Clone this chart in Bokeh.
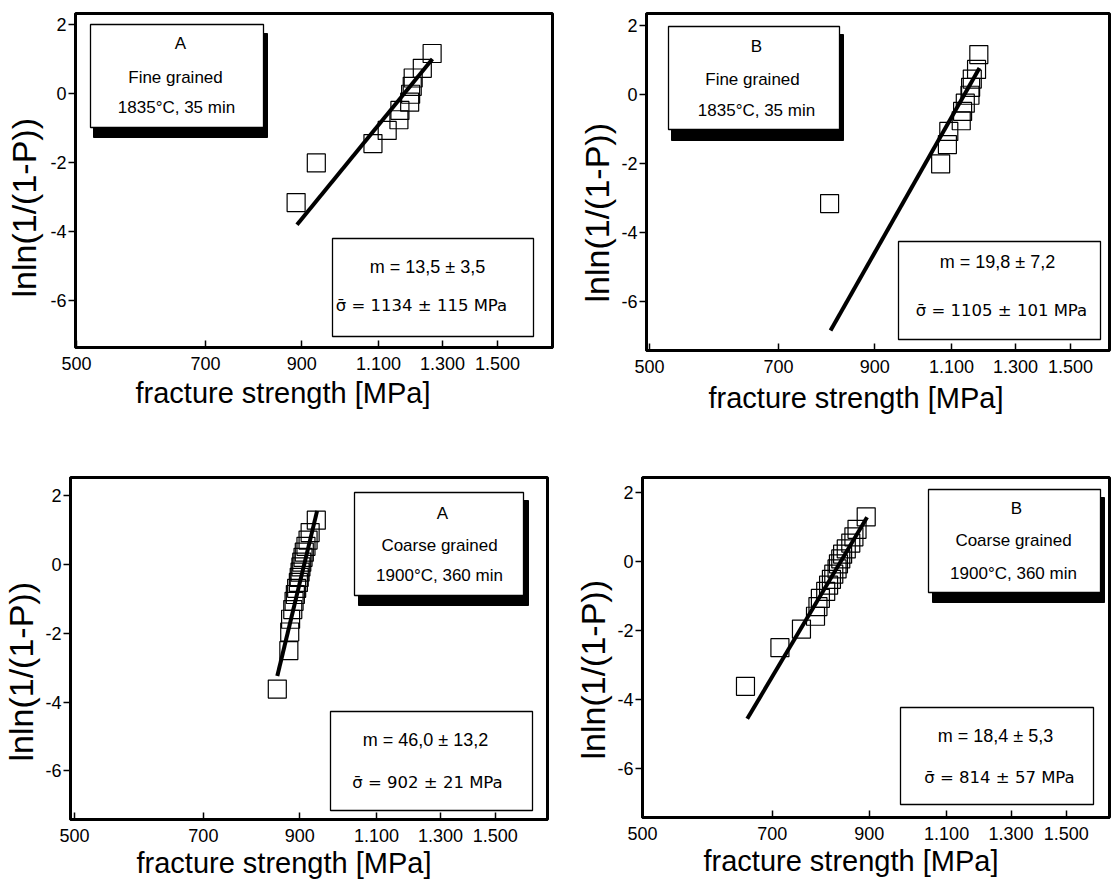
import math
from bokeh.plotting import figure
from bokeh.layouts import row, column
from bokeh.models import FixedTicker, Range1d, Title
from bokeh.core.properties import value
from bokeh.embed import file_html
from bokeh.resources import INLINE

FONT = "Liberation Sans"
SIGMA_FONT = "DejaVu Sans"

# ---------------- data ----------------
fine_A_lnln = [-3.16, -2.01, -1.45, -1.07, -0.76, -0.49, -0.25, -0.02, 0.21, 0.45, 0.73, 1.16]
fine_A_strength = [887, 935, 1084, 1125, 1160, 1163, 1193, 1196, 1201, 1204, 1233, 1265]
fine_A_fit_strength = [889, 1266]
fine_A_fit_lnln = [-3.80, 1.00]

fine_B_lnln = [-3.16, -2.01, -1.45, -1.07, -0.76, -0.49, -0.25, -0.02, 0.21, 0.45, 0.73, 1.16]
fine_B_strength = [800, 1069, 1088, 1092, 1128, 1132, 1140, 1154, 1156, 1161, 1174, 1181]
fine_B_fit_strength = [802, 1183]
fine_B_fit_lnln = [-6.84, 0.77]

coarse_A_lnln = [-3.62, -2.50, -1.96, -1.59, -1.31, -1.07, -0.87, -0.69, -0.52, -0.37,
                 -0.22, -0.07, 0.07, 0.21, 0.36, 0.53, 0.71, 0.93, 1.29]
coarse_A_strength = [849, 875, 877, 879, 884, 887, 890, 893, 897, 899,
                     901, 903, 905, 908, 911, 915, 920, 925, 940]
coarse_A_fit_strength = [849, 942]
coarse_A_fit_lnln = [-3.24, 1.56]

coarse_B_lnln = [-3.62, -2.50, -1.96, -1.59, -1.31, -1.07, -0.87, -0.69, -0.52, -0.37,
                 -0.22, -0.07, 0.07, 0.21, 0.36, 0.53, 0.71, 0.93, 1.29]
coarse_B_strength = [653, 714, 755, 783, 788, 793, 804, 810, 816, 821,
                     828, 831, 836, 840, 848, 858, 865, 872, 893]
coarse_B_fit_strength = [656, 895]
coarse_B_fit_lnln = [-4.56, 1.28]

x_ticks = [500, 700, 900, 1100, 1300, 1500]
x_tick_labels = ["500", "700", "900", "1.100", "1.300", "1.500"]
y_ticks = [-6, -4, -2, 0, 2]
y_tick_labels = ["-6", "-4", "-2", "0", "2"]
x_title = "fracture strength [MPa]"
y_title = "lnln(1/(1-P))"

label_A_fine = ["A", "Fine grained", "1835°C, 35 min"]
label_B_fine = ["B", "Fine grained", "1835°C, 35 min"]
label_A_coarse = ["A", "Coarse grained", "1900°C, 360 min"]
label_B_coarse = ["B", "Coarse grained", "1900°C, 360 min"]
modulus_A_fine = "m = 13,5 ± 3,5"
modulus_B_fine = "m = 19,8 ± 7,2"
modulus_A_coarse = "m = 46,0 ± 13,2"
modulus_B_coarse = "m = 18,4 ± 5,3"
strength_A_fine = "\u03c3\u0304 = 1134 ± 115 MPa"
strength_B_fine = "\u03c3\u0304 = 1105 ± 101 MPa"
strength_A_coarse = "\u03c3\u0304 = 902 ± 21 MPa"
strength_B_coarse = "\u03c3\u0304 = 814 ± 57 MPa"

# ---------------- layout (page pixel positions, page origin 0,0) ----------------
panels = [
    dict(x=fine_A_strength, y=fine_A_lnln, fx=fine_A_fit_strength, fy=fine_A_fit_lnln,
         labels=label_A_fine, mod=modulus_A_fine, sig=strength_A_fine,
         fl=75, ft=13, W=477, H=334, bl=75, br=20, bt=13, bb=93,
         xr=(498.7, 1732), yr=(-7.36, 2.32),
         shadow=(93, 33, 267, 137), box=(90, 24, 263, 127),
         lpos=[(180, 43), (175, 77), (176, 107)],
         sbox=(332, 238, 533, 336), mpos=(427, 266), spos=(421, 305),
         toff=60, tstand=5, yoff=50, ystand=5),
    dict(x=fine_B_strength, y=fine_B_lnln, fx=fine_B_fit_strength, fy=fine_B_fit_lnln,
         labels=label_B_fine, mod=modulus_B_fine, sig=strength_B_fine,
         fl=646, ft=10, W=463, H=337, bl=74, br=3, bt=10, bb=93,
         xr=(496.1, 1661), yr=(-7.42, 2.35),
         shadow=(671, 31, 843, 137), box=(668, 23, 839, 126),
         lpos=[(756, 43), (752, 76), (756, 107)],
         sbox=(898, 238, 1100, 336), mpos=(997, 258), spos=(1001, 307),
         toff=62, tstand=8, yoff=48, ystand=2),
    dict(x=coarse_A_strength, y=coarse_A_lnln, fx=coarse_A_fit_strength, fy=coarse_A_fit_lnln,
         labels=label_A_coarse, mod=modulus_A_coarse, sig=strength_A_coarse,
         fl=70, ft=475, W=477, H=342, bl=70, br=20, bt=35, bb=65,
         xr=(494.8, 1719), yr=(-7.41, 2.53),
         shadow=(358, 498, 528, 603), box=(354, 490, 523, 593),
         lpos=[(442, 511), (439, 543), (439, 573)],
         sbox=(330, 709, 532, 808), mpos=(425, 737), spos=(427, 780),
         toff=66, tstand=0, yoff=58, ystand=1),
    dict(x=coarse_B_strength, y=coarse_B_lnln, fx=coarse_B_fit_strength, fy=coarse_B_fit_lnln,
         labels=label_B_coarse, mod=modulus_B_coarse, sig=strength_B_coarse,
         fl=642, ft=477, W=467, H=340, bl=75, br=3, bt=37, bb=65,
         xr=(500.0, 1678), yr=(-7.42, 2.43),
         shadow=(932, 497, 1104, 602), box=(928, 489, 1100, 592),
         lpos=[(1016, 508), (1013, 540), (1013, 573)],
         sbox=(900, 707, 1093, 804), mpos=(995, 735), spos=(999, 777),
         toff=61, tstand=0, yoff=58, ystand=2),
]


def to_data(s, px, py):
    x0, x1 = s["xr"]
    y0, y1 = s["yr"]
    lx0, lx1 = math.log10(x0), math.log10(x1)
    x = 10 ** (lx0 + (px - s["fl"]) / s["W"] * (lx1 - lx0))
    y = y1 - (py - s["ft"]) / s["H"] * (y1 - y0)
    return x, y


def make_panel(s):
    p = figure(x_axis_type="log",
               x_range=Range1d(*s["xr"]), y_range=Range1d(*s["yr"]),
               frame_width=s["W"], frame_height=s["H"],
               min_border_left=s["bl"], min_border_right=s["br"],
               min_border_top=s["bt"], min_border_bottom=s["bb"],
               output_backend="svg", toolbar_location=None,
               background_fill_color="white", border_fill_color="white")
    p.grid.visible = False
    p.outline_line_color = "black"
    p.outline_line_width = 3

    xa = p.xaxis[0]
    xa.ticker = FixedTicker(ticks=x_ticks)
    xa.major_label_overrides = {t: l for t, l in zip(x_ticks, x_tick_labels)}
    xa.major_tick_in = 7
    xa.major_tick_out = 0
    xa.minor_tick_line_color = None
    xa.major_label_standoff = 9

    ya = p.yaxis[0]
    ya.ticker = FixedTicker(ticks=y_ticks)
    ya.major_label_overrides = {t: l for t, l in zip(y_ticks, y_tick_labels)}
    ya.major_tick_in = 0
    ya.major_tick_out = 7
    ya.minor_tick_line_color = None
    ya.major_label_standoff = 2

    for ax in (xa, ya):
        ax.axis_line_color = "black"
        ax.axis_line_width = 3
        ax.major_tick_line_color = "black"
        ax.major_tick_line_width = 1.5
        ax.major_label_text_font = FONT
        ax.major_label_text_font_size = "18px"
        ax.major_label_text_color = "black"

    # label box with shadow
    sl, st, sr, sb = s["shadow"]
    a = to_data(s, sl, st); b = to_data(s, sr, sb)
    p.quad(left=[a[0]], right=[b[0]], top=[a[1]], bottom=[b[1]],
           fill_color="black", line_color="black", line_width=1)
    bl_, bt_, br_, bb_ = s["box"]
    a = to_data(s, bl_, bt_); b = to_data(s, br_, bb_)
    p.quad(left=[a[0]], right=[b[0]], top=[a[1]], bottom=[b[1]],
           fill_color="white", line_color="black", line_width=1.3)
    pts = [to_data(s, px, py) for px, py in s["lpos"]]
    p.text(x=[q[0] for q in pts], y=[q[1] for q in pts], text=s["labels"],
           text_font=value(FONT), text_font_size="17px", text_color="black",
           text_align="center", text_baseline="middle")

    # statistics box
    bl_, bt_, br_, bb_ = s["sbox"]
    a = to_data(s, bl_, bt_); b = to_data(s, br_, bb_)
    p.quad(left=[a[0]], right=[b[0]], top=[a[1]], bottom=[b[1]],
           fill_color="white", line_color="black", line_width=1.3)
    mx, my = to_data(s, *s["mpos"])
    p.text(x=[mx], y=[my], text=[s["mod"]],
           text_font=value(FONT), text_font_size="18px", text_color="black",
           text_align="center", text_baseline="middle")
    sx, sy = to_data(s, *s["spos"])
    p.text(x=[sx], y=[sy], text=[s["sig"]],
           text_font=value(SIGMA_FONT), text_font_size="16.5px", text_color="black",
           text_align="center", text_baseline="middle")

    # data
    p.line(s["fx"], s["fy"], line_color="black", line_width=4)
    p.scatter(s["x"], s["y"], marker="square", size=18, fill_color=None,
              line_color="black", line_width=1.2)

    # axis titles
    p.add_layout(Title(text=x_title, align="left", offset=s["toff"],
                       standoff=s["tstand"], text_font=FONT,
                       text_font_size="29px", text_font_style="normal",
                       text_color="black"), "below")
    p.add_layout(Title(text=y_title, align="left", vertical_align="top",
                       offset=s["yoff"], standoff=s["ystand"], text_font=FONT,
                       text_font_size="34px", text_font_style="normal",
                       text_color="black"), "left")
    return p


figs = [make_panel(s) for s in panels]
layout = column(row(figs[0], figs[1]), row(figs[2], figs[3]))

open("out.html", "w").write(file_html(layout, INLINE))
